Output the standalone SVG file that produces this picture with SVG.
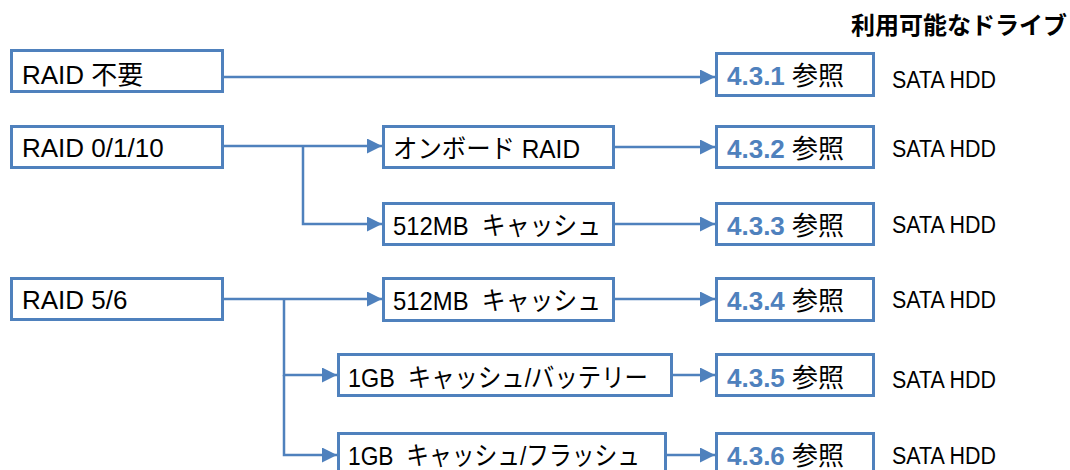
<svg xmlns="http://www.w3.org/2000/svg" width="1070" height="470" viewBox="0 0 1070 470">
<style>
.box{fill:#fff;stroke:#4f81bd;stroke-width:3}
.ln{fill:none;stroke:#4f81bd;stroke-width:2.5}
.t{font-family:"Liberation Sans","Noto Sans CJK JP",sans-serif;font-size:26px;fill:#000;white-space:pre}
.num{font-weight:bold;fill:#4f81bd}
.sata{font-family:"Liberation Sans","Noto Sans CJK JP",sans-serif;font-size:23px;fill:#000}
.title{font-family:"Liberation Sans","Noto Sans CJK JP",sans-serif;font-size:24px;font-weight:bold;fill:#000}
</style>
<defs>
<marker id="ah" markerUnits="userSpaceOnUse" markerWidth="16" markerHeight="16" refX="15" refY="7.5" orient="auto">
<path d="M0,0 L15,7.5 L0,15 Z" fill="#4f81bd"/>
</marker>
</defs>
<rect width="1070" height="470" fill="#fff"/>
<text class="title" x="1067" y="34" text-anchor="end">利用可能なドライブ</text>
<g id="connectors">
<path class="ln" d="M224,77 H715" marker-end="url(#ah)"/>
<path class="ln" d="M224,146 H382" marker-end="url(#ah)"/>
<path class="ln" d="M303,146 V224 H382" marker-end="url(#ah)"/>
<path class="ln" d="M615,147 H715" marker-end="url(#ah)"/>
<path class="ln" d="M615,224 H715" marker-end="url(#ah)"/>
<path class="ln" d="M224,299 H382" marker-end="url(#ah)"/>
<path class="ln" d="M284,299 V375 H337" marker-end="url(#ah)"/>
<path class="ln" d="M284,375 V455 H337" marker-end="url(#ah)"/>
<path class="ln" d="M614,299 H715" marker-end="url(#ah)"/>
<path class="ln" d="M673,375 H715" marker-end="url(#ah)"/>
<path class="ln" d="M667,455 H715" marker-end="url(#ah)"/>
</g>
<g id="raid-none"><rect class="box" x="11.5" y="50.5" width="211" height="41"/><text class="t" x="22" y="84">RAID 不要</text></g>
<g id="raid-0110"><rect class="box" x="11.5" y="126.5" width="211" height="41"/><text class="t" x="22" y="157">RAID 0/1/10</text></g>
<g id="raid-56"><rect class="box" x="11.5" y="278.5" width="211" height="41"/><text class="t" x="22" y="309">RAID 5/6</text></g>
<g id="onboard"><rect class="box" x="383.5" y="126.5" width="230" height="41"/><text class="t" x="393" y="158" textLength="187" lengthAdjust="spacingAndGlyphs">オンボード RAID</text></g>
<g id="cache512a"><rect class="box" x="383.5" y="203.5" width="230" height="41"/><text class="t" x="393" y="235" textLength="208" lengthAdjust="spacingAndGlyphs">512MB  キャッシュ</text></g>
<g id="cache512b"><rect class="box" x="383.5" y="278.5" width="230" height="42"/><text class="t" x="393" y="310" textLength="208" lengthAdjust="spacingAndGlyphs">512MB  キャッシュ</text></g>
<g id="cache1gb-bat"><rect class="box" x="338.5" y="354.5" width="333" height="41"/><text class="t" x="348" y="387" textLength="300" lengthAdjust="spacingAndGlyphs">1GB  キャッシュ/バッテリー</text></g>
<g id="cache1gb-fl"><rect class="box" x="338.5" y="433.5" width="327" height="42"/><text class="t" x="348" y="465" textLength="292" lengthAdjust="spacingAndGlyphs">1GB  キャッシュ/フラッシュ</text></g>
<g id="ref431"><rect class="box" x="716.5" y="53.5" width="157" height="42"/><text class="t" x="727" y="85"><tspan class="num">4.3.1</tspan> 参照</text></g>
<g id="ref432"><rect class="box" x="716.5" y="126.5" width="157" height="41"/><text class="t" x="727" y="158"><tspan class="num">4.3.2</tspan> 参照</text></g>
<g id="ref433"><rect class="box" x="716.5" y="203.5" width="157" height="41"/><text class="t" x="727" y="235"><tspan class="num">4.3.3</tspan> 参照</text></g>
<g id="ref434"><rect class="box" x="716.5" y="278.5" width="157" height="42"/><text class="t" x="727" y="310"><tspan class="num">4.3.4</tspan> 参照</text></g>
<g id="ref435"><rect class="box" x="716.5" y="354.5" width="157" height="41"/><text class="t" x="727" y="387"><tspan class="num">4.3.5</tspan> 参照</text></g>
<g id="ref436"><rect class="box" x="716.5" y="433.5" width="157" height="42"/><text class="t" x="727" y="465"><tspan class="num">4.3.6</tspan> 参照</text></g>
<g id="drives">
<text class="sata" x="892" y="88" textLength="104" lengthAdjust="spacingAndGlyphs">SATA HDD</text>
<text class="sata" x="892" y="157" textLength="104" lengthAdjust="spacingAndGlyphs">SATA HDD</text>
<text class="sata" x="892" y="233" textLength="104" lengthAdjust="spacingAndGlyphs">SATA HDD</text>
<text class="sata" x="892" y="308" textLength="104" lengthAdjust="spacingAndGlyphs">SATA HDD</text>
<text class="sata" x="892" y="388" textLength="104" lengthAdjust="spacingAndGlyphs">SATA HDD</text>
<text class="sata" x="892" y="464" textLength="104" lengthAdjust="spacingAndGlyphs">SATA HDD</text>
</g>
</svg>
